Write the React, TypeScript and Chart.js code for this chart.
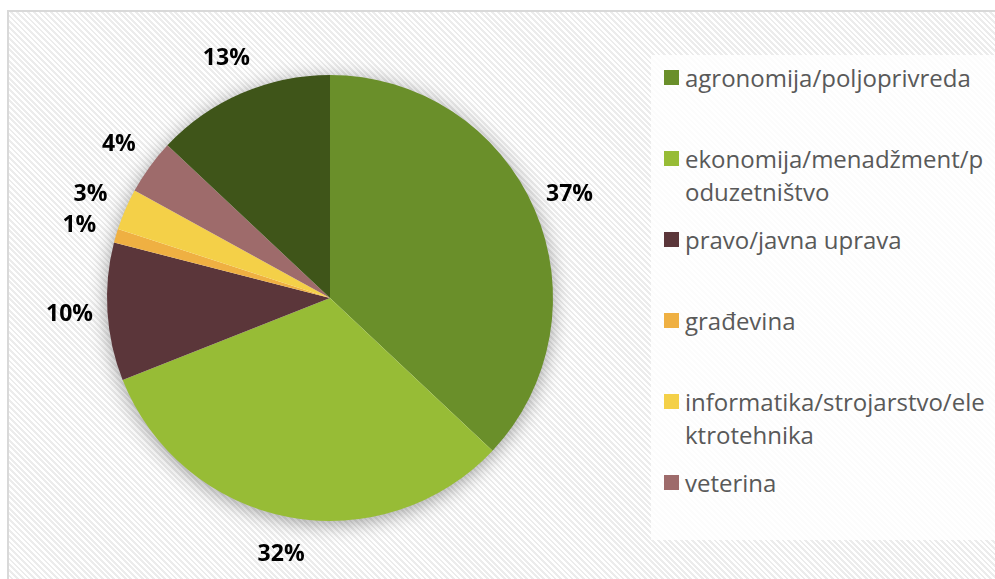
import React, { useEffect, useRef } from "react";
import { Chart, registerables } from "chart.js";

Chart.register(...registerables);

const categories = [
  "agronomija/poljoprivreda",
  "ekonomija/menadžment/poduzetništvo",
  "pravo/javna uprava",
  "građevina",
  "informatika/strojarstvo/elektrotehnika",
  "veterina",
  "ostalo",
];
const values = [37, 32, 10, 1, 3, 4, 13];
const colors = ["#6a8f2a", "#97bc36", "#5b363a", "#efb042", "#f4d048", "#9e6b6b", "#3f5519"];
const legendCount = 6;

const shadowPlugin = {
  id: "pieShadow",
  beforeDatasetsDraw(chart: any) {
    const meta = chart.getDatasetMeta(0);
    if (!meta.data.length) return;
    const arc = meta.data[0];
    const ctx = chart.ctx;
    ctx.save();
    ctx.shadowColor = "rgba(0,0,0,0.4)";
    ctx.shadowBlur = 20;
    ctx.shadowOffsetX = 0;
    ctx.shadowOffsetY = 3;
    ctx.beginPath();
    ctx.arc(arc.x, arc.y, arc.outerRadius - 1, 0, Math.PI * 2);
    ctx.fillStyle = "#ffffff";
    ctx.fill();
    ctx.restore();
  },
};

const labelPlugin = {
  id: "pctLabels",
  afterDatasetsDraw(chart: any) {
    const meta = chart.getDatasetMeta(0);
    const ctx = chart.ctx;
    const total = values.reduce((a, b) => a + b, 0);
    ctx.save();
    ctx.font = "bold 23px 'Open Sans'";
    ctx.fillStyle = "#000000";
    ctx.textAlign = "center";
    ctx.textBaseline = "middle";
    meta.data.forEach((arc: any, i: number) => {
      const mid = (arc.startAngle + arc.endAngle) / 2;
      const r = arc.outerRadius + 38;
      const x = arc.x + Math.cos(mid) * r;
      const y = arc.y + Math.sin(mid) * r;
      ctx.fillText(Math.round((values[i] / total) * 100) + "%", x, y);
    });
    ctx.restore();
  },
};

export default function App() {
  const ref = useRef<HTMLCanvasElement>(null);
  useEffect(() => {
    const chart = new Chart(ref.current!, {
      type: "pie",
      data: {
        labels: categories,
        datasets: [
          {
            data: values,
            backgroundColor: colors,
            borderWidth: 0,
          },
        ],
      },
      options: {
        animation: false,
        responsive: false,
        layout: { padding: { left: 107, right: 442, top: 75, bottom: 58 } },
        plugins: {
          legend: { display: false },
          tooltip: { enabled: false },
        },
      },
      plugins: [shadowPlugin, labelPlugin],
    });
    return () => chart.destroy();
  }, []);

  return (
    <div
      style={{
        position: "absolute",
        left: 0,
        top: 0,
        width: 995,
        height: 579,
        overflow: "hidden",
        background: "#ffffff",
        fontFamily: "'Open Sans', sans-serif",
      }}
    >
      <div
        style={{
          position: "absolute",
          left: 7,
          top: 10,
          width: 1000,
          height: 600,
          border: "2px solid #d9d9d9",
          boxSizing: "border-box",
          background:
            "repeating-linear-gradient(45deg, #ffffff 0px, #ffffff 2px, #ececec 2px, #ececec 4px)",
        }}
      />
      <div
        style={{
          position: "absolute",
          left: 651,
          top: 55,
          width: 360,
          height: 485,
          background: "rgba(255,255,255,0.85)",
        }}
      >
        {categories.slice(0, legendCount).map((c, i) => (
          <div
            key={c}
            style={{
              position: "absolute",
              left: 13,
              top: 6 + i * 81,
              width: 330,
              display: "flex",
              alignItems: "flex-start",
            }}
          >
            <div
              style={{
                width: 15,
                height: 15,
                marginTop: 9,
                background: colors[i],
                flex: "0 0 auto",
              }}
            />
            <div
              style={{
                marginLeft: 6,
                width: 306,
                fontSize: 24,
                lineHeight: "33px",
                color: "#595959",
                wordBreak: "break-all",
              }}
            >
              {c}
            </div>
          </div>
        ))}
      </div>
      <canvas
        ref={ref}
        width={995}
        height={579}
        style={{ position: "absolute", left: 0, top: 0, width: 995, height: 579 }}
      />
    </div>
  );
}
